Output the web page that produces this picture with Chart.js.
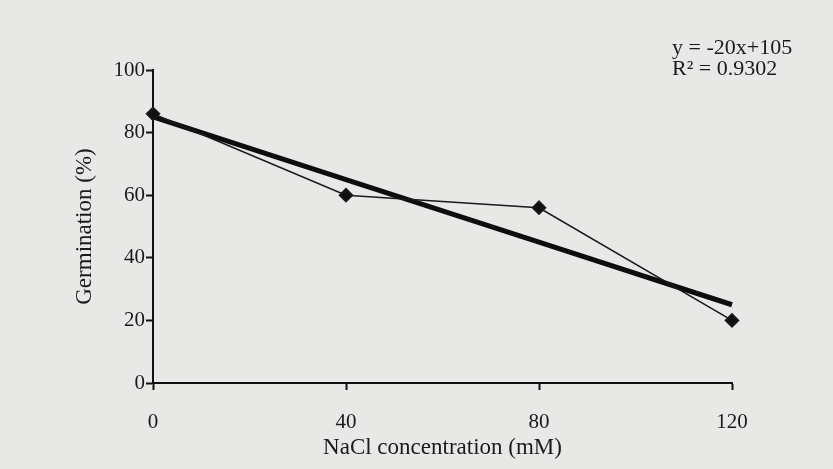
<!DOCTYPE html>
<html lang="en">
<head>
<meta charset="UTF-8">
<title>Germination vs NaCl</title>
<script src="https://cdn.jsdelivr.net/npm/chart.js"></script>
<style>
  html, body { margin: 0; padding: 0; background: #e8e8e6; }
  #chart { display: block; }
</style>
</head>
<body>
<canvas id="chart" width="833" height="469"></canvas>
<script>
// data
const concentrations = [0, 40, 80, 120];
const germination = [86, 60, 56, 20];
// linear trend line y = -20x + 105 (x = treatment number)
const trendValues = [85, 65, 45, 25];
const xTicks = [0, 40, 80, 120];
const yTicks = [0, 20, 40, 60, 80, 100];
const equationLines = ['y = -20x+105', 'R\u00B2 = 0.9302'];

const serif = '"Liberation Serif", "DejaVu Serif", serif';

function toPoints(xs, ys) {
    let pts = [];
    for (let i = 0; i < xs.length; i++) {
        pts.push({ x: xs[i], y: ys[i] });
    }
    return pts;
}

// draws the regression equation in the top right corner
const equationPlugin = {
    id: 'equation',
    afterDraw(chart) {
        const ctx = chart.ctx;
        ctx.save();
        ctx.fillStyle = '#1a1a1a';
        ctx.font = '22px ' + serif;
        ctx.textBaseline = 'middle';
        ctx.fillText(equationLines[0], 672, 48);
        ctx.fillText(equationLines[1], 672, 69);
        ctx.restore();
    }
};

const axisStyle = {
    border: { color: '#111', width: 2 },
    grid: { drawOnChartArea: false, drawTicks: true, tickLength: 7, tickColor: '#111', tickWidth: 2 },
};

new Chart(document.getElementById('chart'), {
    type: 'line',
    data: {
        datasets: [
            {
                label: 'Trend',
                data: toPoints(concentrations, trendValues),
                borderColor: '#0d0d0d',
                borderWidth: 5,
                pointRadius: 0,
                fill: false,
                clip: false,
                order: 1
            },
            {
                label: 'Germination',
                data: toPoints(concentrations, germination),
                borderColor: '#1a1a1a',
                backgroundColor: '#111',
                borderWidth: 1.6,
                pointStyle: 'rectRot',
                pointRadius: 6.5,
                fill: false,
                clip: false,
                order: 0
            }
        ]
    },
    options: {
        responsive: false,
        animation: false,
        layout: { padding: { left: 71, top: 70, right: 101, bottom: 4 } },
        plugins: {
            legend: { display: false },
            tooltip: { enabled: false }
        },
        scales: {
            x: {
                type: 'linear',
                min: 0,
                max: 120,
                afterBuildTicks: s => { s.ticks = xTicks.map(v => ({ value: v })); },
                afterFit: s => { s.height = 82; },
                ...axisStyle,
                ticks: { color: '#1a1a1a', font: { family: serif, size: 21 }, padding: 20 },
                title: { display: true, text: 'NaCl concentration (mM)', color: '#1a1a1a', font: { family: serif, size: 23 }, padding: { top: 0, bottom: 3 } }
            },
            y: {
                min: 0,
                max: 100,
                afterBuildTicks: s => { s.ticks = yTicks.map(v => ({ value: v })); },
                afterFit: s => { s.width = 82; },
                ...axisStyle,
                ticks: { color: '#1a1a1a', font: { family: serif, size: 21 }, padding: 1 },
                title: { display: true, text: 'Germination (%)', color: '#1a1a1a', font: { family: serif, size: 23 }, padding: { top: 0, bottom: 0 } }
            }
        }
    },
    plugins: [equationPlugin]
});
</script>
</body>
</html>
